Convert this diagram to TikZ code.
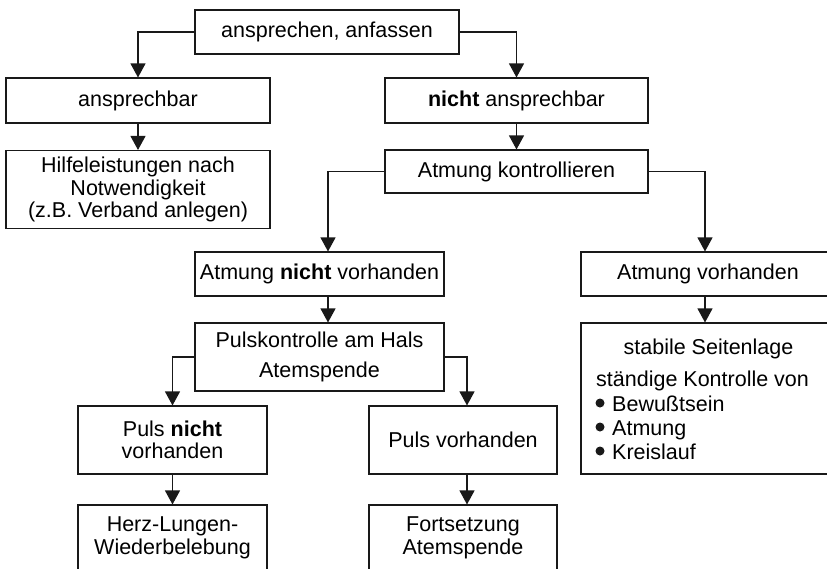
\documentclass[tikz,border=0pt]{standalone}
\usepackage{fontspec}
\setmainfont{Liberation Sans}
\usetikzlibrary{arrows.meta}
\begin{document}
\begin{tikzpicture}[x=1pt,y=-1pt,
  box/.style={draw=black!90, line width=1.1pt, inner sep=0pt, align=center,
    font=\fontsize{21.5}{22.5}\selectfont},
  txt/.style={inner sep=0pt, font=\fontsize{21.5}{22.5}\selectfont},
  dot/.style={circle, fill=black!90, inner sep=0pt, minimum size=9pt},
  arr/.style={draw=black!90, line width=1.1pt, -{Triangle[width=15pt,length=14pt]}}]
\useasboundingbox (0,0) rectangle (827,568);
\clip (0,0) rectangle (827,568);
\fill[white] (0,0) rectangle (827,568);
% boxes
\node[box, minimum width=264pt, minimum height=44pt] (top) at (327,32) {ansprechen, anfassen};
\node[box, minimum width=264pt, minimum height=45pt] (ans) at (138,100.5) {ansprechbar};
\node[box, minimum width=264pt, minimum height=78pt] (hilfe) at (138,189.5) {Hilfeleistungen nach\\Notwendigkeit\\(z.B. Verband anlegen)};
\node[box, minimum width=263pt, minimum height=45pt] (nans) at (516.5,100.5) {\textbf{nicht} ansprechbar};
\node[box, minimum width=263pt, minimum height=43pt] (kontr) at (516.5,171.5) {Atmung kontrollieren};
\node[box, minimum width=249pt, minimum height=44pt] (anv) at (319.5,274) {Atmung \textbf{nicht} vorhanden};
\node[box, minimum width=249pt, minimum height=68pt] (puls) at (319.5,357) {Pulskontrolle am Hals\\[7.5pt]Atemspende};
\node[box, minimum width=189pt, minimum height=68pt] (pnv) at (172.5,440) {Puls \textbf{nicht}\\vorhanden};
\node[box, minimum width=189pt, minimum height=86pt] (herz) at (172.5,548) {};
\node[txt, align=center] (herzt) at (172.5,538) {Herz-Lungen-\\Wiederbelebung};
\node[box, minimum width=188pt, minimum height=68pt] (pv) at (463,440) {Puls vorhanden};
\node[box, minimum width=188pt, minimum height=86pt] (fort) at (463,548) {};
\node[txt, align=center] (fortt) at (463,538) {Fortsetzung\\Atemspende};
\node[box, minimum width=254pt, minimum height=44pt] (av) at (708,274) {Atmung vorhanden};
\node[box, minimum width=254pt, minimum height=151pt] (sl) at (708,398.5) {};
\node[txt, anchor=base] (slt) at (708.5,354) {stabile Seitenlage};
\node[txt, anchor=base west] (k0) at (596,386) {ständige Kontrolle von};
\node[dot] (d1) at (600,403) {};
\node[txt, anchor=base west] (k1) at (612,411) {Bewußtsein};
\node[dot] (d2) at (600,427) {};
\node[txt, anchor=base west] (k2) at (612,435) {Atmung};
\node[dot] (d3) at (600,451) {};
\node[txt, anchor=base west] (k3) at (612,459) {Kreislauf};
% connectors
\draw[arr] (top.west) -| (ans.north);
\draw[arr] (top.east) -| (nans.north);
\draw[arr] (ans.south) -- (hilfe.north);
\draw[arr] (nans.south) -- (kontr.north);
\draw[arr] (kontr.west) -| ([xshift=8.5pt]anv.north);
\draw[arr] (kontr.east) -| ([xshift=-3pt]av.north);
\draw[arr] ([xshift=8.5pt]anv.south) -- ([xshift=8.5pt]puls.north);
\draw[arr] ([xshift=-3pt]av.south) -- ([xshift=-3pt]sl.north);
\draw[arr] (puls.west) -| (pnv.north);
\draw[arr] (puls.east) -| ([xshift=4pt]pv.north);
\draw[arr] (pnv.south) -- (herz.north);
\draw[arr] ([xshift=4pt]pv.south) -- ([xshift=4pt]fort.north);
\end{tikzpicture}
\end{document}
